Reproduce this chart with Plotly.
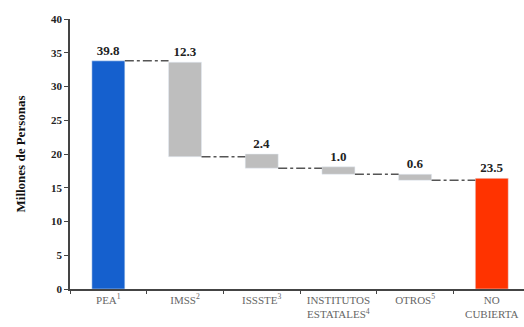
import plotly.graph_objects as go

categories = ["PEA<sup>1</sup>", "IMSS<sup>2</sup>", "ISSSTE<sup>3</sup>",
              "INSTITUTOS<br>ESTATALES<sup>4</sup>", "OTROS<sup>5</sup>", "NO<br>CUBIERTA"]
bar_top = [33.8, 33.6, 20.0, 18.1, 17.0, 16.4]
bar_bottom = [0.0, 19.6, 17.9, 17.0, 16.1, 0.0]
value_labels = ["39.8", "12.3", "2.4", "1.0", "0.6", "23.5"]
bar_colors = ["#1560CE", "#BEBEBE", "#BEBEBE", "#BEBEBE", "#BEBEBE", "#FF3300"]
y_ticks = [0, 5, 10, 15, 20, 25, 30, 35, 40]

BW = 0.43
SERIF = "Liberation Serif"
idx = list(range(len(categories)))

fig = go.Figure()
fig.add_trace(go.Bar(
    x=idx,
    y=[t - b for t, b in zip(bar_top, bar_bottom)],
    base=bar_bottom,
    marker=dict(color=bar_colors),
    width=BW,
    text=["<b>%s</b>" % v for v in value_labels],
    textposition="outside",
    textfont=dict(family=SERIF, size=13, color="#222222"),
    cliponaxis=False,
))

# connectors
for i in idx[:-1]:
    level = bar_top[i] if bar_bottom[i] == 0 else bar_bottom[i]
    fig.add_trace(go.Scatter(
        x=[i + BW / 2, i + 1 - BW / 2], y=[level, level], mode="lines",
        line=dict(color="#555555", width=1.5, dash="dashdot"),
    ))

fig.update_layout(
    width=524, height=327,
    margin=dict(l=70, r=0, t=19, b=38),
    paper_bgcolor="white", plot_bgcolor="white",
    showlegend=False,
    font=dict(family=SERIF, color="#222222"),
    uniformtext=dict(mode=False),
)
fig.update_xaxes(
    range=[-0.5, 5.42],
    tickvals=idx, ticktext=categories, ticks="",
    minor=dict(tickvals=[i - 0.5 for i in idx] + [idx[-1] + 0.5], ticks="outside",
               ticklen=3, tickcolor="#444444", showgrid=False),
    showline=True, linecolor="#444444", linewidth=1.5,
    tickfont=dict(family=SERIF, size=11, color="#666666"),
    showgrid=False, zeroline=False,
)
fig.update_yaxes(
    range=[0, 40], tickvals=y_ticks, ticktext=["<b>%d</b>" % v for v in y_ticks],
    showline=True, linecolor="#444444", linewidth=1.5,
    ticks="outside", ticklen=4, tickcolor="#444444",
    tickfont=dict(family=SERIF, size=11, color="#222222"),
    title=dict(text="<b>Millones de Personas</b>", standoff=22,
               font=dict(family=SERIF, size=13, color="#111111")),
    showgrid=False, zeroline=False,
)

fig.write_html("out.html")
